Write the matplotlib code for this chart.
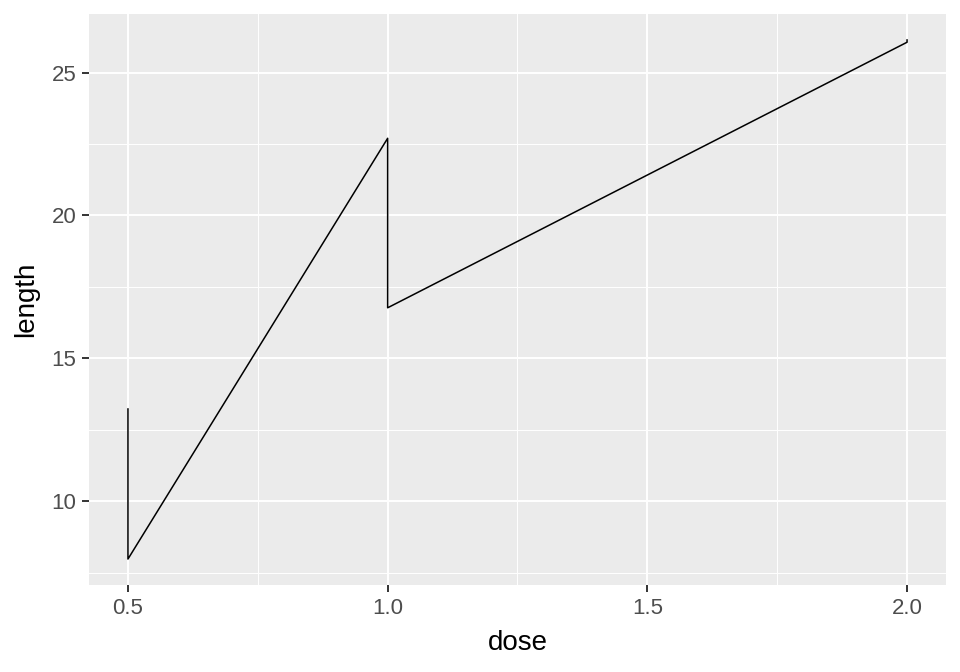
import matplotlib
matplotlib.use("Agg")
import matplotlib.pyplot as plt
from matplotlib.ticker import FixedLocator

plt.rcParams["font.family"] = ["Liberation Sans", "DejaVu Sans"]

# summary of tooth length by dose (OJ and VC rows, in data order)
dose = [0.5, 0.5, 1.0, 1.0, 2.0, 2.0]
length = [13.23, 7.98, 22.70, 16.77, 26.06, 26.14]

x_ticks = [0.5, 1.0, 1.5, 2.0]
x_labels = ["0.5", "1.0", "1.5", "2.0"]
y_ticks = [10, 15, 20, 25]
x_minor = [0.75, 1.25, 1.75]
y_minor = [7.5, 12.5, 17.5, 22.5, 27.5]

fig = plt.figure(figsize=(9.6, 6.72), dpi=100)
ax = fig.add_axes([89 / 960, 87 / 672, 857 / 960, 571 / 672])
ax.set_facecolor("#EBEBEB")

ax.plot(dose, length, color="black", linewidth=1.1, zorder=3)

xspan = max(dose) - min(dose)
yspan = max(length) - min(length)
ax.set_xlim(min(dose) - 0.05 * xspan, max(dose) + 0.05 * xspan)
ax.set_ylim(min(length) - 0.05 * yspan, max(length) + 0.05 * yspan)

ax.xaxis.set_major_locator(FixedLocator(x_ticks))
ax.set_xticklabels(x_labels)
ax.yaxis.set_major_locator(FixedLocator(y_ticks))
ax.xaxis.set_minor_locator(FixedLocator(x_minor))
ax.yaxis.set_minor_locator(FixedLocator(y_minor))

ax.grid(which="major", color="white", linewidth=1.4)
ax.grid(which="minor", color="white", linewidth=0.7)
ax.set_axisbelow(True)

for s in ax.spines.values():
    s.set_visible(False)

ax.tick_params(which="major", length=5, width=1.4, color="#333333",
               labelcolor="#4D4D4D", labelsize=16, pad=4)
ax.tick_params(which="minor", length=0)

ax.set_xlabel("dose", fontsize=20, color="black", labelpad=8)
ax.set_ylabel("length", fontsize=20, color="black", labelpad=9)

fig.savefig("out.png", dpi=100)
